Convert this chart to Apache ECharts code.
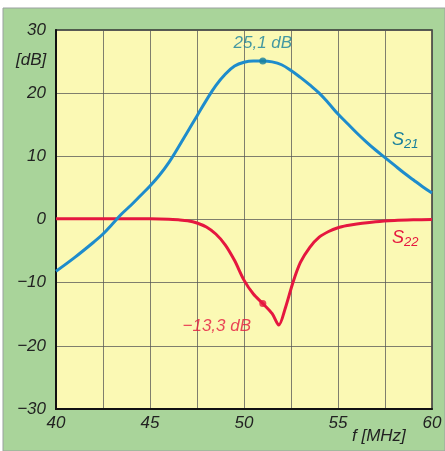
<!DOCTYPE html>
<html><head><meta charset="utf-8">
<script src="https://cdn.jsdelivr.net/npm/echarts@6/dist/echarts.min.js"></script>
<style>html,body{margin:0;padding:0;background:#fff}#c{width:445px;height:451px}</style>
</head><body><div id="c"></div>
<script>
const xTicks = [40, 45, 50, 55, 60];
const yTicks = [-30, -20, -10, 0, 10, 20, 30];
const s21Freq = [40, 41, 42, 42.5, 43, 43.5, 44, 44.5, 45, 45.5, 46, 46.5, 47, 47.5, 48, 48.5, 49, 49.5, 50, 50.5, 51, 51.5, 52, 52.5, 53, 53.5, 54, 54.5, 55, 55.5, 56, 56.5, 57, 57.5, 58, 58.5, 59, 59.5, 60];
const s21Val  = [-8.2, -6.0, -3.6, -2.3, -0.7, 0.9, 2.3, 3.8, 5.3, 7.0, 9.0, 11.4, 13.9, 16.4, 18.9, 21.2, 23.0, 24.3, 24.9, 25.1, 25.1, 24.95, 24.5, 23.6, 22.5, 21.3, 20.0, 18.4, 16.7, 15.2, 13.7, 12.3, 11.0, 9.8, 8.6, 7.4, 6.3, 5.2, 4.2];
const s22Freq = [40, 42, 44, 45, 46, 46.5, 47, 47.5, 48, 48.5, 49, 49.5, 50, 50.5, 51, 51.5, 51.85, 52.2, 52.6, 53, 53.5, 54, 54.5, 55, 55.5, 56, 57, 58, 59, 60];
const s22Val  = [0.1, 0.1, 0.1, 0.1, 0.05, -0.05, -0.2, -0.55, -1.2, -2.3, -4.0, -6.5, -9.6, -11.8, -13.3, -14.9, -16.7, -14.0, -10.0, -6.8, -4.4, -2.8, -1.9, -1.3, -0.95, -0.7, -0.35, -0.15, -0.05, 0];
const markS21 = [51, 25.1];
const markS22 = [51, -13.3];
const labelS21 = '25,1 dB';
const labelS22 = '\u221213,3 dB';

const BLUE = '#1e8ccc', RED = '#e5173f', TEAL = '#177f9c';
const FONT = '"Liberation Sans", Arial, sans-serif';
const chart = echarts.init(document.getElementById('c'), null, {renderer: 'canvas'});
const zip = (a, b) => a.map((v, i) => [v, b[i]]);
const fmtNum = v => (v < 0 ? '\u2212' + Math.abs(v) : String(v));

chart.setOption({
  animation: false,
  backgroundColor: '#ffffff',
  graphic: [
    {type: 'rect', z: -10, shape: {x: 3, y: 8, width: 442, height: 443}, style: {fill: '#a9d49a', stroke: '#9aa0a0', lineWidth: 1}},
    {type: 'text', left: 16, top: 52, style: {text: '[dB]', font: 'italic 17px ' + FONT, fill: '#222'}},
    {type: 'text', left: 352, top: 428, style: {text: 'f [MHz]', font: 'italic 17px ' + FONT, fill: '#222'}},
    {type: 'text', left: 392, top: 131, z: 20, style: {
      text: '{s|S}{b|21}', fill: TEAL,
      rich: {s: {font: 'italic 18px ' + FONT, fill: TEAL}, b: {font: 'italic 13px ' + FONT, fill: TEAL, padding: [8, 0, 0, 0]}}}},
    {type: 'text', left: 392, top: 229, z: 20, style: {
      text: '{s|S}{b|22}', fill: RED,
      rich: {s: {font: 'italic 18px ' + FONT, fill: RED}, b: {font: 'italic 13px ' + FONT, fill: RED, padding: [8, 0, 0, 0]}}}}
  ],
  grid: {left: 56, top: 30, width: 376, height: 379, show: true, backgroundColor: '#fbf9b4', borderColor: '#333', borderWidth: 1.5},
  xAxis: {
    type: 'value', min: 40, max: 60, interval: 2.5,
    axisLine: {show: true, onZero: false, lineStyle: {color: '#111', width: 2}},
    axisTick: {show: false},
    splitLine: {show: true, lineStyle: {color: '#555', width: 1, opacity: 0.75}},
    axisLabel: {
      margin: 6, color: '#222', fontStyle: 'italic', fontSize: 17, fontFamily: FONT,
      formatter: v => (xTicks.includes(v) ? String(v) : '')
    }
  },
  yAxis: {
    type: 'value', min: -30, max: 30, interval: 10,
    axisLine: {show: true, onZero: false, lineStyle: {color: '#111', width: 2}},
    axisTick: {show: false},
    splitLine: {show: true, lineStyle: {color: '#555', width: 1, opacity: 0.75}},
    axisLabel: {
      margin: 10, color: '#222', fontStyle: 'italic', fontSize: 17, fontFamily: FONT,
      formatter: v => (yTicks.includes(v) ? fmtNum(v) : '')
    }
  },
  series: [
    {type: 'line', name: 'S21', data: zip(s21Freq, s21Val), smooth: 0.4, showSymbol: false, lineStyle: {color: BLUE, width: 3}, z: 5},
    {type: 'line', name: 'S22', data: zip(s22Freq, s22Val), smooth: 0.3, showSymbol: false, lineStyle: {color: RED, width: 3}, z: 4},
    {type: 'scatter', data: [markS21], symbolSize: 7, itemStyle: {color: TEAL}, z: 6,
     label: {show: true, position: 'top', distance: 6, formatter: labelS21, color: TEAL, fontStyle: 'italic', fontSize: 17, fontFamily: FONT}},
    {type: 'scatter', data: [markS22], symbolSize: 7, itemStyle: {color: RED}, z: 6,
     label: {show: true, position: 'bottom', offset: [-46, 6], formatter: labelS22, color: RED, fontStyle: 'italic', fontSize: 17, fontFamily: FONT}}
  ]
});
</script></body></html>
